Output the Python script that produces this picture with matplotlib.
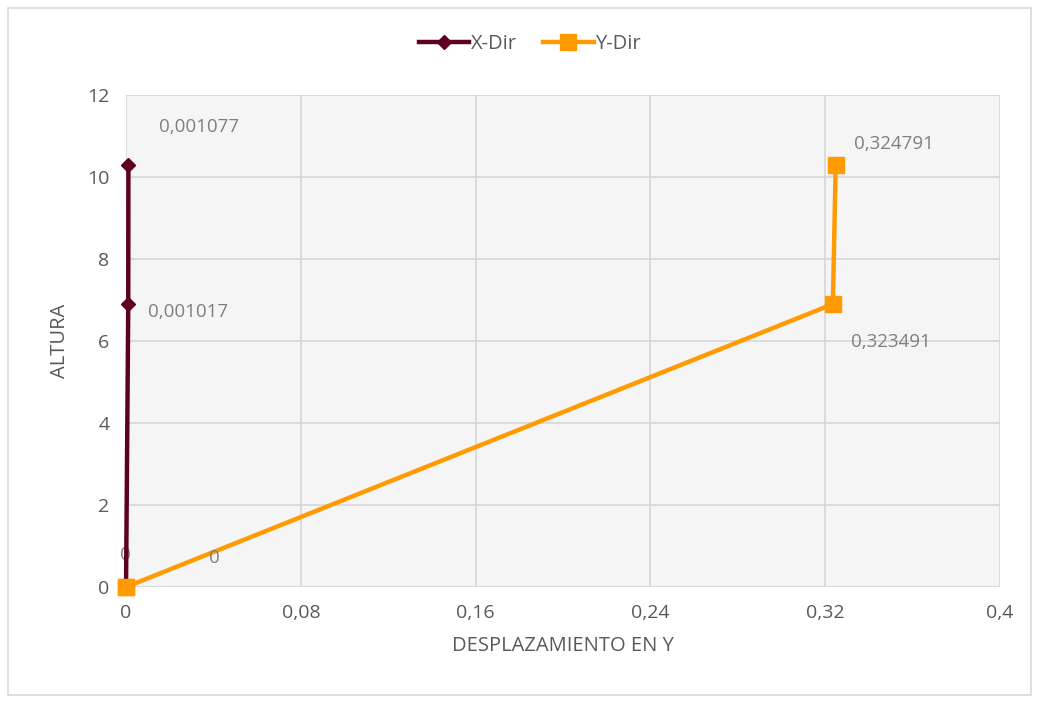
import matplotlib
matplotlib.use("Agg")
import matplotlib.pyplot as plt
from matplotlib.patches import Rectangle

# Storey heights (m) and lateral displacements per direction
altura = [0, 6.9, 10.3]
x_dir = [0, 0.001017, 0.001077]
y_dir = [0, 0.323491, 0.324791]

x_labels = ["0", "0,001017", "0,001077"]
y_labels = ["0", "0,323491", "0,324791"]

x_ticks = [0, 0.08, 0.16, 0.24, 0.32, 0.4]
x_tick_labels = ["0", "0,08", "0,16", "0,24", "0,32", "0,4"]
y_ticks = [0, 2, 4, 6, 8, 10, 12]

plt.rcParams['font.family'] = ['Open Sans', 'DejaVu Sans']
text_col = "#595959"
maroon = "#5E0024"
orange = "#FF9A00"

fig = plt.figure(figsize=(10.39, 7.02), dpi=100)
fig.patches.append(Rectangle((0.008, 0.01), 0.984, 0.978, transform=fig.transFigure,
                             fill=False, edgecolor="#D9D9D9", linewidth=1.2))
ax = fig.add_axes([0.1213, 0.1638, 0.8412, 0.7009])
ax.set_facecolor("#F5F5F5")

ax.plot(x_dir, altura, color=maroon, linewidth=3.2, marker="D", markersize=7,
        label="X-Dir", zorder=4, clip_on=False)
ax.plot(y_dir, altura, color=orange, linewidth=3.2, marker="s", markersize=11,
        label="Y-Dir", zorder=3, clip_on=False)
# origin marker of Y-Dir sits on top of the X-Dir line
ax.plot(y_dir[:1], altura[:1], color=orange, marker="s", markersize=11,
        linestyle="none", zorder=5, clip_on=False)

ax.set_xlim(0, 0.4)
ax.set_ylim(0, 12)
ax.set_xticks(x_ticks)
ax.set_xticklabels(x_tick_labels)
ax.set_yticks(y_ticks)
ax.grid(True, color="#D9D9D9", linewidth=1.3)
ax.set_axisbelow(True)
for s in ax.spines.values():
    s.set_visible(False)
ax.tick_params(length=0, labelsize=14, colors=text_col, pad=12)

ax.set_xlabel("DESPLAZAMIENTO EN Y", fontsize=14.5, color=text_col, labelpad=10)
ax.set_ylabel("ALTURA", fontsize=14.5, color=text_col, labelpad=12)

# Data labels
lbl = dict(fontsize=13.5, color="#7F7F7F", ha="left", va="center")
ax.annotate(x_labels[0], (x_dir[0], altura[0]), xytext=(-4, 23), textcoords="offset points", **lbl)
ax.annotate(x_labels[1], (x_dir[1], altura[1]), xytext=(14, -6), textcoords="offset points", **lbl)
ax.annotate(x_labels[2], (x_dir[2], altura[2]), xytext=(22, 27), textcoords="offset points", **lbl)
ax.annotate(y_labels[0], (y_dir[0], altura[0]), xytext=(60, 21), textcoords="offset points", **lbl)
ax.annotate(y_labels[1], (y_dir[1], altura[1]), xytext=(13, -27), textcoords="offset points", **lbl)
ax.annotate(y_labels[2], (y_dir[2], altura[2]), xytext=(13, 15), textcoords="offset points", **lbl)

leg = fig.legend(loc="center", bbox_to_anchor=(0.51, 0.937), ncol=2, frameon=False,
                 fontsize=14.5, handlelength=2.5, columnspacing=1.3, handletextpad=0.1)
for t in leg.get_texts():
    t.set_color(text_col)

fig.savefig("out.png", dpi=100, facecolor="white")
